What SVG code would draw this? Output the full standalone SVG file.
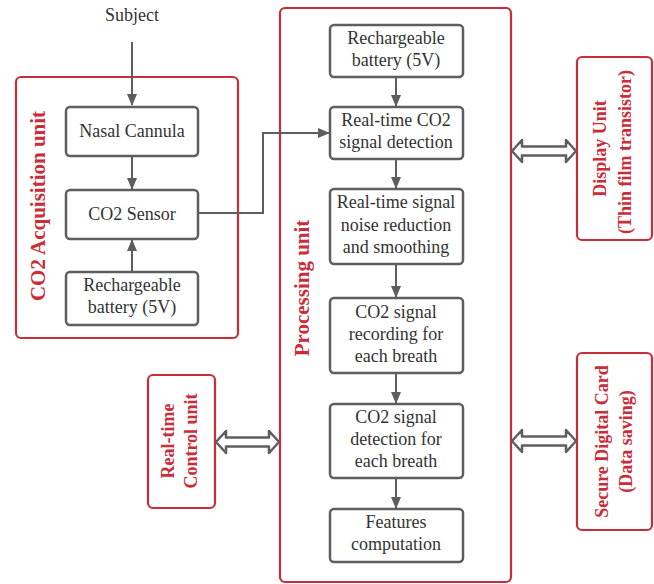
<svg xmlns="http://www.w3.org/2000/svg" width="654" height="584" viewBox="0 0 654 584">
<defs>
<style>
.unit{fill:#fff;stroke:#c92d39;stroke-width:2.2}
.box{fill:#fff;stroke:#5e5e5e;stroke-width:2.5}
.t{font-family:"Liberation Serif","Tinos","Times New Roman","DejaVu Serif",serif;font-size:18px;fill:#333;text-anchor:middle}
.rt{font-family:"Liberation Serif","Tinos","Times New Roman","DejaVu Serif",serif;font-size:18px;font-weight:bold;fill:#c92d39;text-anchor:middle}
.big{font-size:21px}
.c{fill:none;stroke:#5e5e5e;stroke-width:2}
.dbl{fill:#fff;stroke:#5e5e5e;stroke-width:2.5;stroke-linejoin:round}
</style>
<marker id="ah" viewBox="0 0 12 10" refX="11" refY="5" markerWidth="12" markerHeight="10" markerUnits="userSpaceOnUse" orient="auto">
<path d="M0,0 L12,5 L0,10 Z" fill="#5e5e5e"/>
</marker>
</defs>
<rect width="654" height="584" fill="#fff"/>

<g id="acq-unit">
<rect class="unit" x="16" y="77" width="222" height="261" rx="5"/>
<text class="rt big" transform="translate(45,206) rotate(-90)">CO2 Acquisition unit</text>
</g>
<g id="proc-unit">
<rect class="unit" x="280" y="8" width="231" height="574" rx="5"/>
<text class="rt big" transform="translate(309,288) rotate(-90)">Processing unit</text>
</g>

<g id="subject"><text class="t" x="132" y="21">Subject</text></g>
<g id="nasal"><rect class="box" x="66" y="107" width="132" height="49" rx="4"/><text class="t" x="132" y="137">Nasal Cannula</text></g>
<g id="sensor"><rect class="box" x="66" y="190" width="132" height="49" rx="4"/><text class="t" x="132" y="220">CO2 Sensor</text></g>
<g id="battery1"><rect class="box" x="66" y="272" width="132" height="53" rx="4"/><text class="t" x="132" y="291">Rechargeable</text><text class="t" x="132" y="313">battery (5V)</text></g>

<g id="battery2"><rect class="box" x="330" y="25" width="133" height="52" rx="4"/><text class="t" x="396" y="44">Rechargeable</text><text class="t" x="396" y="66">battery (5V)</text></g>
<g id="rt-detect"><rect class="box" x="330" y="107" width="133" height="52" rx="4"/><text class="t" x="396" y="126">Real-time CO2</text><text class="t" x="396" y="148">signal detection</text></g>
<g id="noise"><rect class="box" x="330" y="189" width="133" height="75" rx="4"/><text class="t" x="396" y="208">Real-time signal</text><text class="t" x="396" y="230.500">noise reduction</text><text class="t" x="396" y="253">and smoothing</text></g>
<g id="recording"><rect class="box" x="330" y="298" width="133" height="75" rx="4"/><text class="t" x="396" y="318">CO2 signal</text><text class="t" x="396" y="340">recording for</text><text class="t" x="396" y="362">each breath</text></g>
<g id="detection"><rect class="box" x="330" y="404" width="133" height="74" rx="4"/><text class="t" x="396" y="423">CO2 signal</text><text class="t" x="396" y="445">detection for</text><text class="t" x="396" y="467">each breath</text></g>
<g id="features"><rect class="box" x="330" y="509" width="133" height="53" rx="4"/><text class="t" x="396" y="528">Features</text><text class="t" x="396" y="550">computation</text></g>

<g id="display"><rect class="unit" x="577" y="57" width="75" height="183" rx="5"/><text class="rt" transform="translate(606,148.500) rotate(-90)">Display Unit</text><text class="rt" transform="translate(631,152) rotate(-90)">(Thin film transistor)</text></g>
<g id="sdcard"><rect class="unit" x="577" y="353" width="75" height="177" rx="5"/><text class="rt" transform="translate(608,441.500) rotate(-90)">Secure Digital Card</text><text class="rt" transform="translate(632,441.500) rotate(-90)">(Data saving)</text></g>
<g id="control"><rect class="unit" x="148" y="375" width="67" height="133" rx="5"/><text class="rt" transform="translate(174,441) rotate(-90)">Real-time</text><text class="rt" transform="translate(197,441) rotate(-90)">Control unit</text></g>

<g id="connectors">
<path class="c" d="M132,42 V105" marker-end="url(#ah)"/>
<path class="c" d="M132,157 V189" marker-end="url(#ah)"/>
<path class="c" d="M132,272 V240" marker-end="url(#ah)"/>
<path class="c" d="M199,213 H263 V133 H329" marker-end="url(#ah)"/>
<path class="c" d="M396,78 V106" marker-end="url(#ah)"/>
<path class="c" d="M396,160 V188" marker-end="url(#ah)"/>
<path class="c" d="M396,265 V297" marker-end="url(#ah)"/>
<path class="c" d="M396,374 V403" marker-end="url(#ah)"/>
<path class="c" d="M396,479 V508" marker-end="url(#ah)"/>
<polygon class="dbl" points="512,151 522,140 522,146.500 566,146.500 566,140 576,151 566,162 566,155.500 522,155.500 522,162"/>
<polygon class="dbl" points="512,441 522,430 522,436.500 566,436.500 566,430 576,441 566,452 566,445.500 522,445.500 522,452"/>
<polygon class="dbl" points="216,442 226,431 226,437.500 269,437.500 269,431 279,442 269,453 269,446.500 226,446.500 226,453"/>
</g>
</svg>
